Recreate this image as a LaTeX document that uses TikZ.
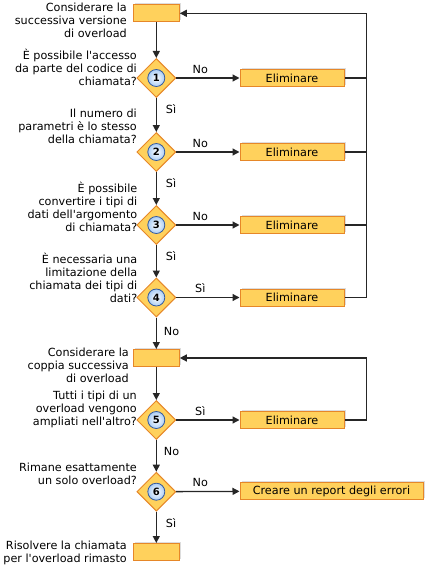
\documentclass[tikz,border=0pt]{standalone}
\usepackage{fontspec}
\setmainfont{DejaVu Sans}[Ligatures=TeXOff]
\usetikzlibrary{shapes.geometric,arrows.meta,shadows}
\definecolor{boxfill}{RGB}{255,209,92}
\definecolor{boxdraw}{RGB}{230,135,40}
\definecolor{numfill}{RGB}{170,205,245}
\definecolor{numdraw}{RGB}{50,90,160}
\definecolor{linec}{RGB}{38,38,38}
\begin{document}
\begin{tikzpicture}[x=1pt,y=-1pt,
  font=\fontsize{11.2}{13}\selectfont,
  box/.style={draw=boxdraw, fill=boxfill, line width=1pt, minimum width=46pt,
    minimum height=17pt, inner sep=0pt,
    drop shadow={shadow xshift=1.5pt,shadow yshift=1.5pt,opacity=0.22,fill=black!60}},
  dec/.style={diamond, draw=boxdraw, fill=boxfill, line width=1pt,
    minimum width=39pt, minimum height=39pt, inner sep=0pt},
  num/.style={circle, draw=numdraw, line width=0.8pt, inner color=white,
    outer color=numfill, minimum size=17pt, inner sep=0pt,
    font=\fontsize{10}{12}\bfseries\selectfont},
  lab/.style={align=right, anchor=east, inner sep=0pt},
  conn/.style={draw=linec, line width=1.3pt},
  arr/.style={conn, -{Triangle[length=7pt,width=7pt]}},
  tag/.style={inner sep=0pt}]
\useasboundingbox (0,0) rectangle (432,570);

% main nodes
\node[box] (b1) at (156.3,13.3) {};
\node[dec] (d1) at (156.3,78) {};
\node[num] (n1) at (d1) {1};
\node[box, minimum width=104pt] (e1) at (292,78) {Eliminare};

\node[dec] (d2) at (156.3,152) {};
\node[num] (n2) at (d2) {2};
\node[box, minimum width=104pt] (e2) at (292,152) {Eliminare};

\node[dec] (d3) at (156.3,225) {};
\node[num] (n3) at (d3) {3};
\node[box, minimum width=104pt] (e3) at (292,225) {Eliminare};

\node[dec] (d4) at (156.3,297.5) {};
\node[num] (n4) at (d4) {4};
\node[box, minimum width=104pt] (e4) at (292,297.5) {Eliminare};

\node[box] (b2) at (156.3,358) {};
\node[dec] (d5) at (156.3,420) {};
\node[num] (n5) at (d5) {5};
\node[box, minimum width=104pt] (e5) at (292,420) {Eliminare};

\node[dec] (d6) at (156.3,491.7) {};
\node[num] (n6) at (d6) {6};
\node[box, minimum width=183pt] (rep) at (331.5,491) {Creare un report degli errori};

\node[box] (b3) at (156.3,552) {};

% left labels
\node[lab] (l1) at (127,20) {Considerare la\\successiva versione\\di overload};
\node[lab] (l2) at (137,67.5) {È possibile l'accesso\\da parte del codice di\\chiamata?};
\node[lab] (l3) at (137,126) {Il numero di\\parametri è lo stesso\\della chiamata?};
\node[lab] (l4) at (137.5,207) {È possibile\\convertire i tipi di\\dati dell'argomento\\di chiamata?};
\node[lab] (l5) at (137.5,278) {È necessaria una\\limitazione della\\chiamata dei tipi di\\dati?};
\node[lab] (l6) at (129,365) {Considerare la\\coppia successiva\\di overload};
\node[lab] (l7) at (137,409) {Tutti i tipi di un\\overload vengono\\ampliati nell'altro?};
\node[lab] (l8) at (137,474) {Rimane esattamente\\un solo overload?};
\node[lab] (l9) at (127,552.5) {Risolvere la chiamata\\per l'overload rimasto};

% right return lines
\coordinate (rx) at (366.7,13.3);
\coordinate (rx2) at (366.7,358);

% connectors
\draw[arr] (b1) -- (d1);
\draw[arr] (d1) -- (e1) node[tag, pos=0.38, above=4pt] {No};
\draw[arr] (d1) -- (d2) node[tag, pos=0.33, right=9pt] {Sì};
\draw[arr] (d2) -- (e2) node[tag, pos=0.38, above=4pt] {No};
\draw[arr] (d2) -- (d3) node[tag, pos=0.33, right=9pt] {Sì};
\draw[arr] (d3) -- (e3) node[tag, pos=0.38, above=4pt] {No};
\draw[arr] (d3) -- (d4) node[tag, pos=0.33, right=9pt] {Sì};
\draw[arr] (d4) -- (e4) node[tag, pos=0.38, above=4pt] {Sì};
\draw[arr] (d4) -- (b2) node[tag, pos=0.45, right=7pt] {No};
\draw[arr] (b2) -- (d5);
\draw[arr] (d5) -- (e5) node[tag, pos=0.38, above=4pt] {Sì};
\draw[arr] (d5) -- (d6) node[tag, pos=0.35, right=7pt] {No};
\draw[arr] (d6) -- (rep) node[tag, pos=0.38, above=4pt] {No};
\draw[arr] (d6) -- (b3) node[tag, pos=0.35, right=9pt] {Sì};

\draw[conn] (e1.east) -- (e1.east -| rx);
\draw[conn] (e2.east) -- (e2.east -| rx);
\draw[conn] (e3.east) -- (e3.east -| rx);
\draw[arr] (e4.east) -| (rx) -- (b1.east);
\draw[arr] (e5.east) -| (rx2) -- (b2.east);
\end{tikzpicture}
\end{document}
